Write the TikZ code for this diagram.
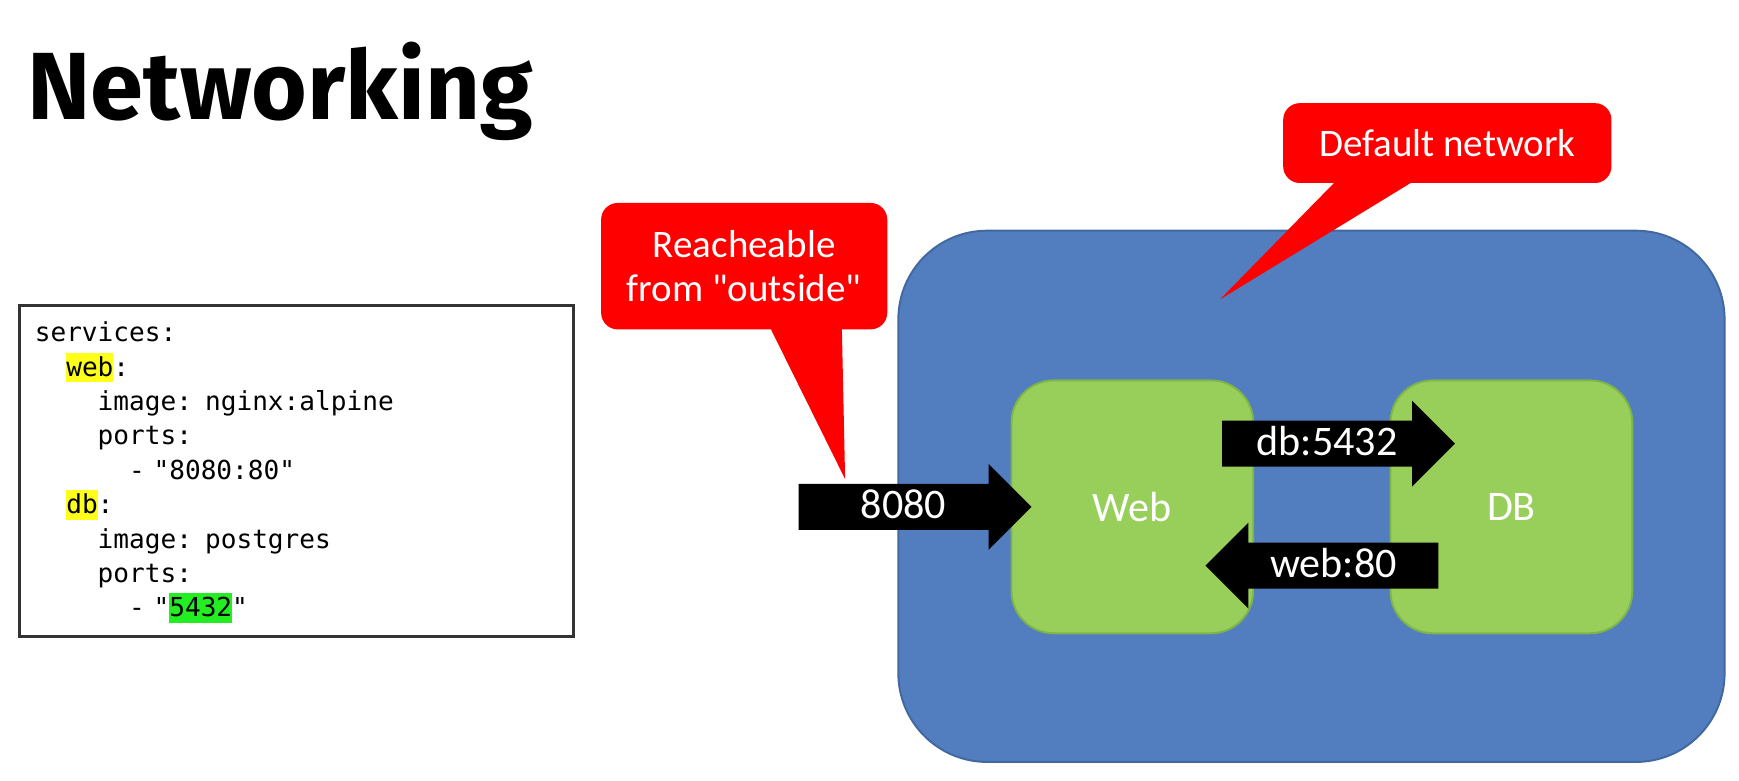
\documentclass[tikz,border=0pt]{standalone}
\usepackage{fontspec}
\setmainfont{Carlito}[Ligatures=TeXOff]
\setmonofont{DejaVu Sans Mono}
\newfontfamily\titlefont{Fira Sans}
\usetikzlibrary{shapes.arrows,positioning}
\definecolor{netblue}{HTML}{527EC0}
\definecolor{netedge}{HTML}{41689F}
\definecolor{boxgreen}{HTML}{98CF5A}
\definecolor{boxedge}{HTML}{7DB548}
\definecolor{callred}{HTML}{FF0000}
\definecolor{hlyellow}{HTML}{FFFF1A}
\definecolor{hlgreen}{HTML}{22EE22}
\newcommand\codestrut{\rule[-1.6pt]{0pt}{7.6pt}}
\newcommand\hly[1]{{\setlength\fboxsep{0pt}\colorbox{hlyellow}{\codestrut#1}}}
\newcommand\hlg[1]{{\setlength\fboxsep{0pt}\colorbox{hlgreen}{\codestrut#1}}}
\begin{document}
\begin{tikzpicture}
  \tikzstyle{callout}=[fill=callred, rounded corners=0.15cm, text=white, font=\fontsize{10pt}{11.4pt}\selectfont, align=center, inner sep=0pt]
  \tikzstyle{service}=[fill=boxgreen, draw=boxedge, line width=0.5pt, rounded corners=0.38cm, minimum width=2.18cm, minimum height=2.28cm, text=white, font=\fontsize{10.8pt}{13pt}\selectfont]
  \tikzstyle{port}=[single arrow, fill=black, text=white, font=\fontsize{10.8pt}{13pt}\selectfont, minimum height=2.1cm, single arrow head extend=0.18cm, inner ysep=0.8pt, text height=8pt, text depth=1.8pt, anchor=tip]
  \useasboundingbox (0,0) rectangle (15.68,-7.033);
  \node[anchor=base west, inner sep=0pt, font=\titlefont\bfseries\fontsize{24.5pt}{30pt}\selectfont] (title) at (0.24,-1.08) {Networking};
  \node[draw=black!80, line width=0.8pt, minimum height=2.97cm, text width=4.72cm, inner xsep=0.14cm, align=left, anchor=north west, font=\ttfamily\fontsize{6.7pt}{8.82pt}\selectfont] (code) at (0.16,-2.74) {\codestrut services:\\
    \codestrut\phantom{xx}\hly{web}:\\
    \codestrut\phantom{xxxx}image: nginx:alpine\\
    \codestrut\phantom{xxxx}ports:\\
    \codestrut\phantom{xxxxxx}- "8080:80"\\
    \codestrut\phantom{xx}\hly{db}:\\
    \codestrut\phantom{xxxx}image: postgres\\
    \codestrut\phantom{xxxx}ports:\\
    \codestrut\phantom{xxxxxx}- "\hlg{5432}"};
  \node[fill=netblue, draw=netedge, line width=0.5pt, rounded corners=0.8cm, minimum width=7.45cm, minimum height=4.79cm] (net) at (11.825,-4.475) {};
  \node[service] (web) at (10.21,-4.57) {Web};
  \node[service, right=1.22cm of web] (db) {DB};
  \node[port] (a8080) at ([xshift=0.2cm]web.west) {8080};
  \node[port] (adb) at ([xshift=0.6cm,yshift=0.57cm]db.west) {db:5432};
  \node[port, shape border rotate=180] (aweb) at ([xshift=-0.45cm,yshift=-0.53cm]web.east) {web:80};
  \node[callout, minimum width=2.58cm, minimum height=1.14cm] (outside) at (6.71,-2.40) {Reacheable\\from "outside"};
  \coordinate (tipout) at (7.62,-4.32);
  \fill[callred] ([xshift=0.22cm,yshift=0.05cm]outside.south) -- (tipout) -- ([xshift=0.88cm,yshift=0.05cm]outside.south) -- cycle;
  \node[callout, minimum width=2.96cm, minimum height=0.72cm] (defnet) at (13.05,-1.29) {Default network};
  \coordinate (tipnet) at (11.00,-2.70);
  \fill[callred] ([xshift=-0.98cm,yshift=0.05cm]defnet.south) -- (tipnet) -- ([xshift=-0.26cm,yshift=0.05cm]defnet.south) -- cycle;
\end{tikzpicture}
\end{document}
